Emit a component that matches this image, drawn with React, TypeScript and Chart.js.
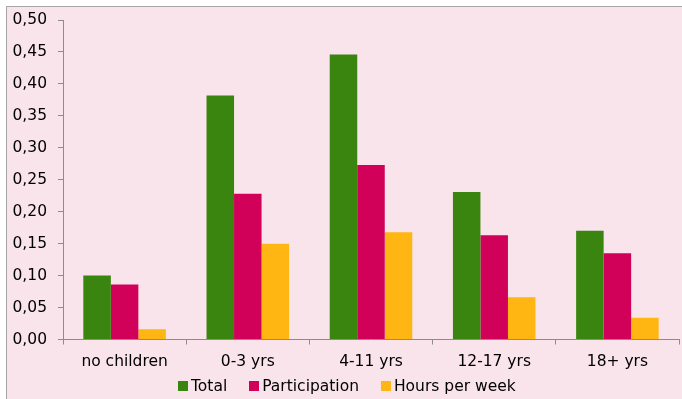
import { useEffect, useRef } from 'react';
import { Chart, registerables } from 'chart.js';

Chart.register(...registerables);

// Age of youngest child
const categories = ['no children', '0-3 yrs', '4-11 yrs', '12-17 yrs', '18+ yrs'];

// Effect sizes per group
const totalValues = [0.1, 0.382, 0.446, 0.231, 0.17];
const participationValues = [0.086, 0.228, 0.273, 0.163, 0.135];
const hoursValues = [0.016, 0.15, 0.168, 0.066, 0.034];

const seriesNames = ['Total', 'Participation', 'Hours per week'];

// Value axis
const yMin = 0;
const yMax = 0.5;
const yStep = 0.05;

const seriesColors = ['#3a850f', '#d10059', '#ffb612'];
const axisColor = '#8c8c8c';
const panelColor = '#f9e4ec';
const fontFamily = "'DejaVu Sans', sans-serif";
const fontSize = 15.5;

export default function App() {
  const canvasRef = useRef<HTMLCanvasElement | null>(null);

  useEffect(() => {
    const canvas = canvasRef.current;
    if (!canvas) return;
    const seriesValues = [totalValues, participationValues, hoursValues];
    const chart = new Chart(canvas, {
      type: 'bar',
      data: {
        labels: categories,
        datasets: seriesNames.map((name, i) => ({
          label: name,
          data: seriesValues[i],
          backgroundColor: seriesColors[i],
          borderWidth: 0,
          categoryPercentage: 0.67,
          barPercentage: 1,
        })),
      },
      options: {
        responsive: false,
        animation: false,
        layout: { padding: { top: 13, right: 3, left: 0, bottom: 0 } },
        plugins: {
          legend: { display: false },
          tooltip: { enabled: false },
        },
        scales: {
          x: {
            border: { display: true, color: axisColor, width: 1 },
            grid: {
              offset: true,
              drawOnChartArea: false,
              drawTicks: true,
              tickLength: 5,
              color: axisColor,
            },
            ticks: {
              padding: 8,
              color: '#000',
              font: { family: fontFamily, size: fontSize },
            },
            afterFit: (scale: any) => {
              scale.height = 59.5;
              scale.paddingLeft = 0;
              scale.paddingRight = 0;
            },
          },
          y: {
            min: yMin,
            max: yMax,
            border: { display: true, color: axisColor, width: 1 },
            grid: {
              drawOnChartArea: false,
              drawTicks: true,
              tickLength: 5,
              color: axisColor,
            },
            ticks: {
              stepSize: yStep,
              padding: 11,
              color: '#000',
              font: { family: fontFamily, size: fontSize },
              callback: (v: any) => Number(v).toFixed(2).replace('.', ','),
            },
            afterFit: (scale: any) => {
              scale.width = 56;
              scale.paddingTop = 0;
              scale.paddingBottom = 0;
            },
          },
        },
      },
    });
    return () => chart.destroy();
  }, []);

  return (
    <div
      style={{
        position: 'fixed',
        left: 0,
        top: 0,
        width: 682,
        height: 399,
        background: '#fff',
        overflow: 'hidden',
      }}
    >
      <div
        style={{
          position: 'absolute',
          left: 6,
          top: 6,
          width: 676,
          height: 393,
          boxSizing: 'border-box',
          borderLeft: '1px solid #a6a6a6',
          borderTop: '1px solid #a6a6a6',
          background: panelColor,
        }}
      >
        <canvas
          ref={canvasRef}
          width={675}
          height={392}
          style={{ position: 'absolute', left: 0, top: 0, width: 675, height: 392 }}
        />
      </div>
      <div
        style={{
          position: 'absolute',
          left: 178,
          top: 376.5,
          display: 'flex',
          alignItems: 'center',
          fontFamily,
          fontSize,
          lineHeight: '18px',
          color: '#000',
          whiteSpace: 'nowrap',
        }}
      >
        {seriesNames.map((name, i) => (
          <div
            key={name}
            style={{ display: 'flex', alignItems: 'center', marginRight: i < seriesNames.length - 1 ? 22 : 0 }}
          >
            <span
              style={{
                display: 'inline-block',
                width: 10,
                height: 10,
                background: seriesColors[i],
                marginRight: 3,
              }}
            />
            <span>{name}</span>
          </div>
        ))}
      </div>
    </div>
  );
}
